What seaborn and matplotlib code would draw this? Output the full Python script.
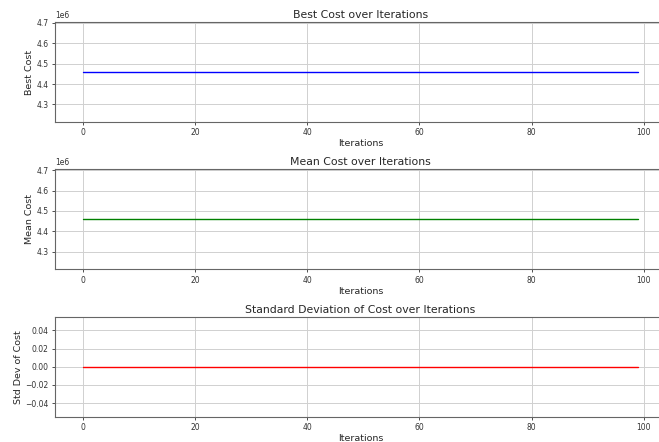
import numpy as np
import pandas as pd
import matplotlib
matplotlib.use("Agg")
import matplotlib.pyplot as plt
import seaborn as sns

iterations = list(range(100))
best_cost = [4459000.0] * 100
mean_cost = [4459000.0] * 100
std_cost = [0.0] * 100

titles = ["Best Cost over Iterations", "Mean Cost over Iterations",
          "Standard Deviation of Cost over Iterations"]
ylabels = ["Best Cost", "Mean Cost", "Std Dev of Cost"]
colors = ["blue", "green", "red"]
series = [best_cost, mean_cost, std_cost]

sns.set_style("ticks")
plt.rcParams['font.family'] = ['DejaVu Sans']

W, H = 659, 442
fig = plt.figure(figsize=(W / 100, H / 100), dpi=100)

tops = [22, 169.3, 316.7]
left_px, right_px, h_px = 55, 666, 100

for i in range(3):
    ax = fig.add_axes([left_px / W, 1 - (tops[i] + h_px) / H,
                       (right_px - left_px) / W, h_px / H])
    df = pd.DataFrame({"Iterations": iterations, "val": series[i]})
    sns.lineplot(data=df, x="Iterations", y="val", ax=ax, color=colors[i], linewidth=1.0)
    ax.set_title(titles[i], fontsize=7.8, pad=3)
    ax.set_xlabel("Iterations", fontsize=6.8, labelpad=1.5)
    ax.set_ylabel(ylabels[i], fontsize=6.8, labelpad=2)
    ax.tick_params(labelsize=5.5, length=2.5, width=0.6, pad=2, colors="#333333")
    ax.yaxis.get_offset_text().set_fontsize(5.5)
    ax.grid(True, color="#d0d0d0", linewidth=0.7)
    for s in ax.spines.values():
        s.set_color("#666666")
        s.set_linewidth(0.8)

fig.savefig("out.png", dpi=100)
